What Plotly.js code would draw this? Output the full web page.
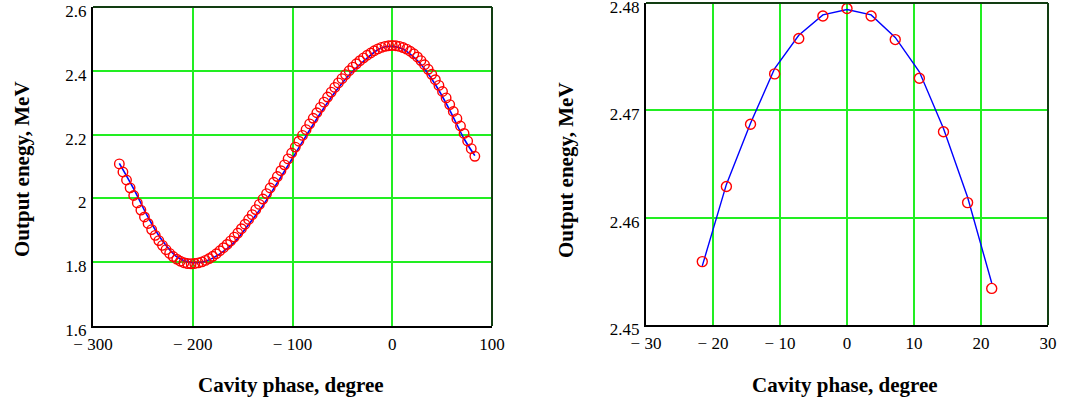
<!DOCTYPE html>
<html><head><meta charset="utf-8">
<script src="https://cdn.plot.ly/plotly-3.0.1.min.js"></script>
<style>html,body{margin:0;padding:0;background:#fff}#chart{width:1065px;height:406px}</style>
</head><body><div id="chart"></div>
<script>
// Left panel: measured (circles)
const phaseWide = [-273.6,-270.0,-266.4,-262.8,-259.2,-255.6,-252.0,-248.4,-244.8,-241.2,
-237.6,-234.0,-230.4,-226.8,-223.2,-219.6,-216.0,-212.4,-208.8,-205.2,
-201.6,-198.0,-194.4,-190.8,-187.2,-183.6,-180.0,-176.4,-172.8,-169.2,
-165.6,-162.0,-158.4,-154.8,-151.2,-147.6,-144.0,-140.4,-136.8,-133.2,
-129.6,-126.0,-122.4,-118.8,-115.2,-111.6,-108.0,-104.4,-100.8,-97.2,
-93.6,-90.0,-86.4,-82.8,-79.2,-75.6,-72.0,-68.4,-64.8,-61.2,
-57.6,-54.0,-50.4,-46.8,-43.2,-39.6,-36.0,-32.4,-28.8,-25.2,
-21.6,-18.0,-14.4,-10.8,-7.2,-3.6,0,3.6,7.2,10.8,
14.4,18.0,21.6,25.2,28.8,32.4,36.0,39.6,43.2,46.8,
50.4,54.0,57.6,61.2,64.8,68.4,72.0,75.6,79.2,82.8];
const energyWide = [2.1082,2.0828,2.0577,2.0331,2.0091,1.9858,1.9633,1.9418,1.9214,1.9021,
1.8842,1.8677,1.8528,1.8393,1.8276,1.8176,1.8093,1.8029,1.7984,1.7957,
1.7950,1.7958,1.7978,1.8011,1.8056,1.8114,1.8184,1.8265,1.8358,1.8454,
1.8556,1.8667,1.8786,1.8914,1.9049,1.9190,1.9338,1.9491,1.9649,1.9812,
1.9979,2.0150,2.0326,2.0504,2.0685,2.0868,2.1052,2.1238,2.1423,2.1608,
2.1793,2.1975,2.2156,2.2335,2.2512,2.2685,2.2854,2.3018,2.3178,2.3332,
2.3480,2.3621,2.3755,2.3882,2.4002,2.4115,2.4220,2.4317,2.4406,2.4488,
2.4559,2.4629,2.4687,2.4734,2.4767,2.4788,2.4795,2.4788,2.4766,2.4730,
2.4680,2.4614,2.4534,2.4435,2.4320,2.4191,2.4048,2.3891,2.3722,2.3543,
2.3351,2.3151,2.2941,2.2724,2.2500,2.2270,2.2037,2.1799,2.1560,2.1320];
// Left panel: fitted curve (blue line)
const fitPhaseWide = [-273.6,-259.2,-244.8,-230.4,-216.0,-201.6,-187.2,-172.8,-158.4,-144.0,
-129.6,-115.2,-100.8,-86.4,-72.0,-57.6,-43.2,-28.8,-14.4,-7.2,0,7.2,14.4,28.8,43.2,57.6,72.0,82.8];
const fitEnergyWide = [2.110,2.030,1.941,1.867,1.817,1.799,1.803,1.826,1.862,1.918,
1.978,2.049,2.122,2.196,2.267,2.332,2.387,2.430,2.466,2.4755,2.4765,2.472,2.461,2.420,2.357,2.277,2.187,2.134];

// Right panel: measured (circles) and fitted line
const phaseZoom = [-21.6,-18.0,-14.4,-10.8,-7.2,-3.6,0,3.6,7.2,10.8,14.4,18.0,21.6];
const energyZoom = [2.4559,2.4629,2.4687,2.4734,2.4767,2.4788,2.4795,2.4788,2.4766,2.4730,2.4680,2.4614,2.4534];
const fitEnergyZoom = [2.4555,2.4631,2.4688,2.4739,2.4770,2.4789,2.4794,2.4789,2.4768,2.4736,2.4683,2.4619,2.4539];

// Tick labels
const xTickValsWide = [-300,-200,-100,0,100];
const xTickTextWide = ['\u2212 300','\u2212 200','\u2212 100','0','100'];
const yTickValsWide = [1.6,1.8,2.0,2.2,2.4,2.6];
const yTickTextWide = ['1.6','1.8','2','2.2','2.4','2.6'];
const xTickValsZoom = [-30,-20,-10,0,10,20,30];
const xTickTextZoom = ['\u2212 30','\u2212 20','\u2212 10','0','10','20','30'];
const yTickValsZoom = [2.45,2.46,2.47,2.48];
const yTickTextZoom = ['2.45','2.46','2.47','2.48'];
const xTitle = 'Cavity phase, degree';
const yTitle = 'Output enegy, MeV';

const FONT = '"Liberation Serif", "Times New Roman", serif';
const GRID = '#22ee22';
const FRAME2 = '#123d12';

const traces = [
  {x:fitPhaseWide, y:fitEnergyWide, xaxis:'x', yaxis:'y', mode:'lines', line:{color:'#0000ff', width:1.6, shape:'spline', smoothing:1}},
  {x:phaseWide, y:energyWide, xaxis:'x', yaxis:'y', mode:'markers', marker:{symbol:'circle-open', size:9.5, color:'#ff0000', line:{width:1.4, color:'#ff0000'}}},
  {x:phaseZoom, y:fitEnergyZoom, xaxis:'x2', yaxis:'y2', mode:'lines', line:{color:'#0000ff', width:1.4}},
  {x:phaseZoom, y:energyZoom, xaxis:'x2', yaxis:'y2', mode:'markers', marker:{symbol:'circle-open', size:10, color:'#ff0000', line:{width:1.4, color:'#ff0000'}}}
];

function xax(dom, range, tv, tt, anchor){
  return {domain:dom, range:range, tickvals:tv, ticktext:tt, showgrid:true, gridcolor:GRID, gridwidth:2,
    zeroline:false, showline:true, linecolor:'#000', linewidth:2, ticks:'', ticklabelstandoff:2,
    ticklabeloverflow:'allow', tickfont:{family:FONT, size:17, color:'#000'}, anchor:anchor, fixedrange:true};
}
function yax(dom, range, tv, tt, anchor){
  return {domain:dom, range:range, tickvals:tv, ticktext:tt, showgrid:true, gridcolor:GRID, gridwidth:2,
    zeroline:false, showline:true, linecolor:'#000', linewidth:2, ticks:'', ticklabelstandoff:1, ticklabelshift:4,
    ticklabeloverflow:'allow', tickfont:{family:FONT, size:17, color:'#000'}, anchor:anchor, fixedrange:true};
}

const xd1 = [93/1065, 492/1065], yd1 = [(406-326)/406, (406-7)/406];
const xd2 = [646/1065, 1048/1065], yd2 = [(406-325)/406, (406-3)/406];

const layout = {
  width:1065, height:406, margin:{l:0,r:0,t:0,b:0}, showlegend:false,
  paper_bgcolor:'#fff', plot_bgcolor:'#fff', font:{family:FONT, color:'#000'},
  xaxis: xax(xd1, [-300,100], xTickValsWide, xTickTextWide, 'y'),
  yaxis: yax(yd1, [1.5999,2.6001], yTickValsWide, yTickTextWide, 'x'),
  xaxis2: xax(xd2, [-30,30], xTickValsZoom, xTickTextZoom, 'y2'),
  yaxis2: yax(yd2, [2.44999,2.48001], yTickValsZoom, yTickTextZoom, 'x2'),
  shapes: [
    {type:'line', xref:'x domain', yref:'y domain', x0:0, x1:1, y0:1, y1:1, line:{color:FRAME2, width:2}},
    {type:'line', xref:'x domain', yref:'y domain', x0:1, x1:1, y0:0, y1:1, line:{color:FRAME2, width:2}},
    {type:'line', xref:'x2 domain', yref:'y2 domain', x0:0, x1:1, y0:1, y1:1, line:{color:FRAME2, width:2}},
    {type:'line', xref:'x2 domain', yref:'y2 domain', x0:1, x1:1, y0:0, y1:1, line:{color:FRAME2, width:2}}
  ],
  annotations: [
    {text:'<b>'+xTitle+'</b>', xref:'paper', yref:'paper', x:291/1065, y:(406-385)/406, showarrow:false, xanchor:'center', yanchor:'middle', font:{family:FONT, size:21, color:'#000'}},
    {text:'<b>'+xTitle+'</b>', xref:'paper', yref:'paper', x:845/1065, y:(406-385)/406, showarrow:false, xanchor:'center', yanchor:'middle', font:{family:FONT, size:21, color:'#000'}},
    {text:'<b>'+yTitle+'</b>', xref:'paper', yref:'paper', x:22/1065, y:(406-169)/406, showarrow:false, textangle:-90, xanchor:'center', yanchor:'middle', font:{family:FONT, size:21, color:'#000'}},
    {text:'<b>'+yTitle+'</b>', xref:'paper', yref:'paper', x:566/1065, y:(406-170)/406, showarrow:false, textangle:-90, xanchor:'center', yanchor:'middle', font:{family:FONT, size:21, color:'#000'}}
  ]
};

Plotly.newPlot('chart', traces, layout, {staticPlot:true, displayModeBar:false});
</script></body></html>
